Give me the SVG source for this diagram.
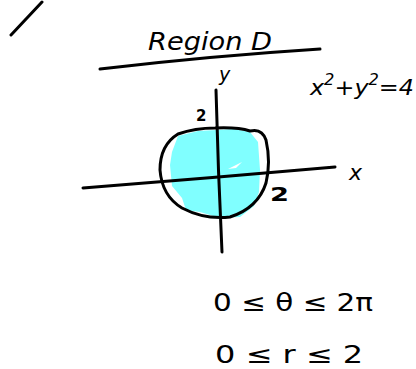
<svg xmlns="http://www.w3.org/2000/svg" width="416" height="369" viewBox="0 0 416 369">
<style>
.ink{fill:none;stroke:#000;stroke-width:3;stroke-linecap:round;stroke-linejoin:round}
.t{font-family:"DejaVu Sans","Liberation Sans",sans-serif;fill:#000}
</style>
<rect width="416" height="369" fill="#fff"/>
<g id="slash"><path class="ink" d="M11,35 L42,2"/></g>
<g id="title">
<text class="t" x="148" y="50" font-size="25" font-style="italic" textLength="124" lengthAdjust="spacingAndGlyphs">Region D</text>
<path class="ink" d="M100,69 Q210,56 320,49"/>
</g>
<g id="region">
<path d="M172,152 L178,136 L198,131 L234,129 L250,132 L258,142 L260,170 L259,192 L254,206 L240,217 L220,218 L200,212 L186,210 L182,198 L172,186 L170,165 Z" fill="#80ffff"/>
<path d="M228,169 L242,162 L236,168 Z" fill="#fff"/>
</g>
<g id="axes">
<path class="ink" d="M83,188 Q210,178 335,167"/>
<path class="ink" d="M216,90 Q218,170 222,252"/>
</g>
<g id="circle">
<path class="ink" d="M215,128 Q238,127 250,131 Q262,128 266,140 Q271,162 266,183 Q258,208 230,217 Q205,220 182,208 Q162,196 160,170 Q160,145 178,134 Q195,128 215,128 Z"/>
</g>
<g id="labels">
<text class="t" x="219" y="81" font-size="19" font-style="italic">y</text>
<text class="t" x="196" y="121" font-size="15" font-weight="bold">2</text>
<text class="t" x="349" y="180" font-size="22" font-style="italic">x</text>
<text class="t" x="270" y="201" font-size="20" font-weight="bold" textLength="19" lengthAdjust="spacingAndGlyphs">2</text>
<text class="t" x="310" y="95" font-size="22" font-style="italic" textLength="104" lengthAdjust="spacingAndGlyphs">x<tspan font-size="15" dy="-10">2</tspan><tspan dy="10">+y</tspan><tspan font-size="15" dy="-10">2</tspan><tspan dy="10">=4</tspan></text>
<text class="t" x="213" y="311" font-size="24" textLength="160" lengthAdjust="spacingAndGlyphs">0 ≤ θ ≤ 2π</text>
<text class="t" x="215" y="363" font-size="24" textLength="148" lengthAdjust="spacingAndGlyphs">0 ≤ r ≤ 2</text>
</g>
</svg>
